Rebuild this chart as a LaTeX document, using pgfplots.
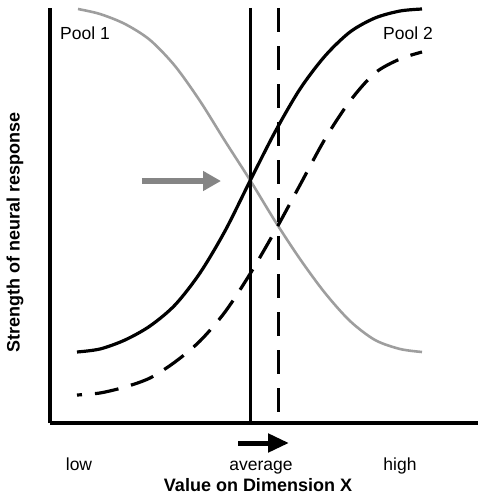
\documentclass[border=0pt]{standalone}
\usepackage{pgfplots}
\pgfplotsset{compat=1.18}
\usepackage{fontspec}
\setmainfont{Liberation Sans}
\usetikzlibrary{arrows.meta}

\definecolor{poolgray}{gray}{0.62}
\definecolor{arrowgray}{gray}{0.52}

\begin{document}
\begin{tikzpicture}
\begin{axis}[
  scale only axis, width=428pt, height=415pt,
  xmin=50, xmax=478, ymin=76, ymax=491,
  axis x line=bottom, axis y line=left,
  axis line style={-, line width=3.3pt},
  ytick=\empty,
  xtick={79,261,400}, xticklabels={low,average,high},
  major tick length=0pt,
  xticklabel style={font=\fontsize{17.5}{20}\selectfont, anchor=base, yshift=-47pt},
  xlabel={Value on Dimension X},
  xlabel style={at={(rel axis cs:0.486,-0.164)}, anchor=base, font=\bfseries\fontsize{18}{21}\selectfont},
  ylabel={Strength of neural response},
  ylabel style={at={(rel axis cs:-0.0818,0.46)}, anchor=center, font=\bfseries\fontsize{18}{21}\selectfont},
  clip=false]
  % pool 1 (gray)
  \addplot[poolgray, line width=2.6pt, smooth] coordinates {(78,490) (100,485) (125,475) (150,459) (175,433) (200,398) (225,358) (250,319) (275,278) (300,240) (325,206) (350,178) (375,159) (400,150) (422,147)};
  % pool 2 (solid)
  \addplot[black, line width=3.2pt, smooth] coordinates {(77,147) (100,150) (125,159) (150,173) (175,194) (200,226) (225,268) (250,318) (275,367) (300,410) (325,443) (350,467) (375,481) (400,488) (422,490)};
  % pool 2 shifted (dashed)
  \addplot[black, line width=3.2pt, smooth, dash pattern=on 24pt off 13pt, dash phase=19pt] coordinates {(77,104) (100,106) (125,112) (150,121) (175,137) (200,158) (225,187) (250,225) (275,268) (300,314) (325,360) (350,398) (375,426) (400,440) (422,447)};
  % boundaries
  \addplot[black, line width=3pt] coordinates {(250,491) (250,76)};
  \addplot[black, line width=3pt, dash pattern=on 24pt off 14pt] coordinates {(278,491) (278,76)};
  \node[anchor=base west, inner sep=0pt, font=\fontsize{17.5}{20}\selectfont] at (axis cs:60,459.5) {Pool 1};
  \node[anchor=base west, inner sep=0pt, font=\fontsize{17.5}{20}\selectfont] at (axis cs:383,459.5) {Pool 2};
  \draw[arrowgray, line width=6pt, -{Triangle[length=18pt 0 0, width=19pt 0 0]}] (axis cs:142,318) -- (axis cs:221,318);
  \draw[black, line width=5pt, -{Triangle[length=21pt 0 0, width=18pt 0 0]}] (axis cs:238,56) -- (axis cs:289,56);
\end{axis}
\pgfresetboundingbox
\path[use as bounding box] (-50pt,-76pt) rectangle (440pt,423pt);
\end{tikzpicture}
\end{document}
